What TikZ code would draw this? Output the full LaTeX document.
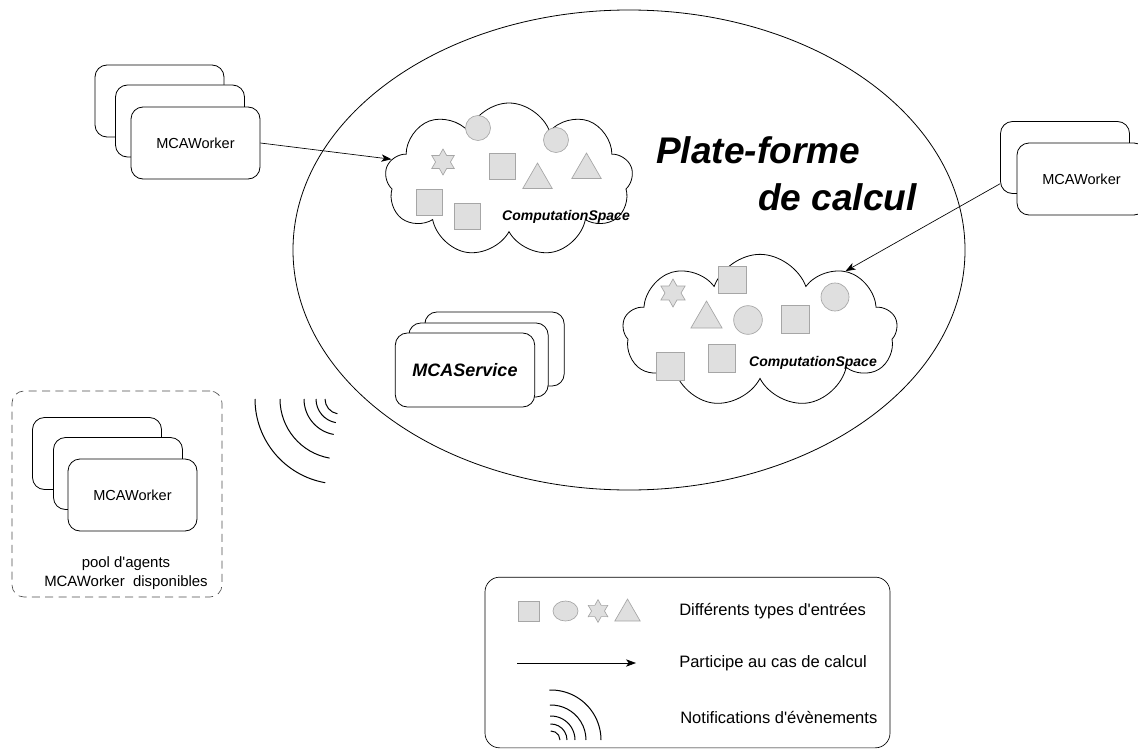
\documentclass[tikz,border=0pt]{standalone}
\usepackage{fontspec}
\setmainfont{Liberation Sans}[Ligatures=TeXOff]
\usetikzlibrary{shapes.geometric,shapes.symbols,arrows.meta}
\definecolor{shfill}{HTML}{DFDFDF}
\definecolor{shdraw}{HTML}{A6A6A6}
\begin{document}
\begin{tikzpicture}[x=0.75pt,y=-0.75pt,
  every node/.style={inner sep=0pt},
  card/.style={draw=black, line width=0.6pt, rounded corners=9pt, fill=white,
    minimum width=96.75pt, minimum height=54pt, font=\fontsize{10.9}{13}\selectfont},
  svc/.style={card, minimum width=104.5pt, minimum height=55.5pt,
    font=\fontsize{13.5}{16}\selectfont\bfseries\itshape},
  sq/.style={draw=shdraw, fill=shfill, line width=0.5pt, minimum width=19.5pt, minimum height=19.5pt},
  circ/.style={circle, draw=shdraw, fill=shfill, line width=0.5pt, minimum size=18.75pt},
  hexstar/.style={star, star points=6, star point ratio=1.75, draw=shdraw, fill=shfill, line width=0.5pt, minimum size=19.5pt},
  tri/.style={regular polygon, regular polygon sides=3, draw=shdraw, fill=shfill, line width=0.5pt, minimum size=25.5pt},
  cs/.style={cloud, cloud puffs=9, cloud puff arc=140, cloud ignores aspect, draw=black, line width=0.6pt, fill=white},
  cslabel/.style={font=\fontsize{10.5}{12}\selectfont\bfseries\itshape},
  arr/.style={-{Stealth[length=7.5pt,width=5.5pt,inset=2pt]}, line width=0.5pt},
  legtext/.style={anchor=west, font=\fontsize{12.4}{15}\selectfont},
  wave/.style={line width=0.75pt}
]
\useasboundingbox (0,0) rectangle (1138,749);

% platform ellipse
\node[ellipse, draw=black, line width=0.6pt, minimum width=504pt, minimum height=360pt] (plat) at (629,250) {};
\node[anchor=base west, font=\fontsize{27.8}{33}\selectfont\bfseries\itshape] (t1) at (656,163) {Plate-forme};
\node[anchor=base east, font=\fontsize{27.8}{33}\selectfont\bfseries\itshape] (t2) at (917,210) {de calcul};

% computation space 1
\node[cs, minimum width=186pt, minimum height=115.5pt] (cs1) at (509,180) {};
\node[circ] (c1a) at (478,128) {};
\node[circ] (c1b) at (556,140) {};
\node[hexstar] (c1s) at (443,162) {};
\node[sq] (c1q1) at (502,166) {};
\node[tri] (c1t1) at (537.5,180) {};
\node[tri] (c1t2) at (586.5,170) {};
\node[sq] (c1q2) at (429,202) {};
\node[sq] (c1q3) at (467.5,216) {};
\node[cslabel] (cs1t) at (566,217) {ComputationSpace};

% computation space 2
\node[cs, minimum width=206pt, minimum height=115pt] (cs2) at (760,331) {};
\node[hexstar, minimum size=21pt] (c2s) at (673,293) {};
\node[sq, minimum width=21pt, minimum height=20.5pt] (c2q1) at (732,280) {};
\node[circ, minimum size=21pt] (c2c1) at (835,297) {};
\node[tri, minimum size=27pt] (c2t) at (706.5,319) {};
\node[circ, minimum size=21.5pt] (c2c2) at (748,320) {};
\node[sq, minimum width=21pt, minimum height=21pt] (c2q2) at (795,319) {};
\node[sq, minimum width=21pt, minimum height=21pt] (c2q3) at (670,366) {};
\node[sq, minimum width=20.5pt, minimum height=21pt] (c2q4) at (721.5,358) {};
\node[cslabel] (cs2t) at (813,363) {ComputationSpace};

% MCAService stack
\node[svc] (s1) at (494.5,349) {};
\node[svc] (s2) at (478.5,360) {};
\node[svc] (s3) at (465,370) {MCAService};

% worker stack top-left
\node[card] (w1a) at (159.5,101) {};
\node[card] (w1b) at (180,121) {};
\node[card] (w1c) at (195.5,143) {MCAWorker};

% worker stack right
\node[card] (w2a) at (1065,157.5) {};
\node[card] (w2b) at (1081.5,179) {MCAWorker};

% connectors
\draw[arr] (w1c.east) -- (cs1.170);
\draw[arr] (w2a.202) -- (cs2.35);

% pool
\node[draw=black!70, dash pattern=on 6pt off 4pt, line width=0.5pt, rounded corners=9pt,
  minimum width=157.5pt, minimum height=154.5pt] (pool) at (117,494) {};
\node[card] (p1) at (97,453.5) {};
\node[card] (p2) at (118,473.5) {};
\node[card] (p3) at (132.5,495) {MCAWorker};
\node[align=center, font=\fontsize{11.2}{14.25}\selectfont] (pooltext) at (126,573) {pool d'agents\\MCAWorker\ \ disponibles};

% notification waves
\foreach \r in {15,24,36,60,85}
  \draw[wave] (340,399) ++(180:\r) arc[start angle=180, end angle=100, radius=\r];

% legend
\node[draw=black, line width=0.5pt, rounded corners=11pt, minimum width=303.75pt, minimum height=128pt] (leg) at (687.5,662.5) {};
\node[sq, minimum width=15.75pt, minimum height=15pt] (lq) at (528.5,611) {};
\node[ellipse, draw=shdraw, fill=shfill, line width=0.5pt, minimum width=18.75pt, minimum height=15pt] (le) at (565.5,611) {};
\node[hexstar, minimum size=17pt] (ls) at (598,611) {};
\node[tri, minimum size=22pt] (lt) at (627.5,613.7) {};
\node[legtext] (l1) at (679,611) {Différents types d'entrées};
\coordinate (la) at (517,663);
\coordinate (lb) at (636,663);
\draw[arr] (la) -- (lb);
\node[legtext] (l2) at (679,663) {Participe au cas de calcul};
\foreach \r in {9,16,24,35,50}
  \draw[wave] (551,740) ++(268:\r) arc[start angle=268, end angle=360, radius=\r];
\node[legtext] (l3) at (680,717) {Notifications d'évènements};
\end{tikzpicture}
\end{document}
